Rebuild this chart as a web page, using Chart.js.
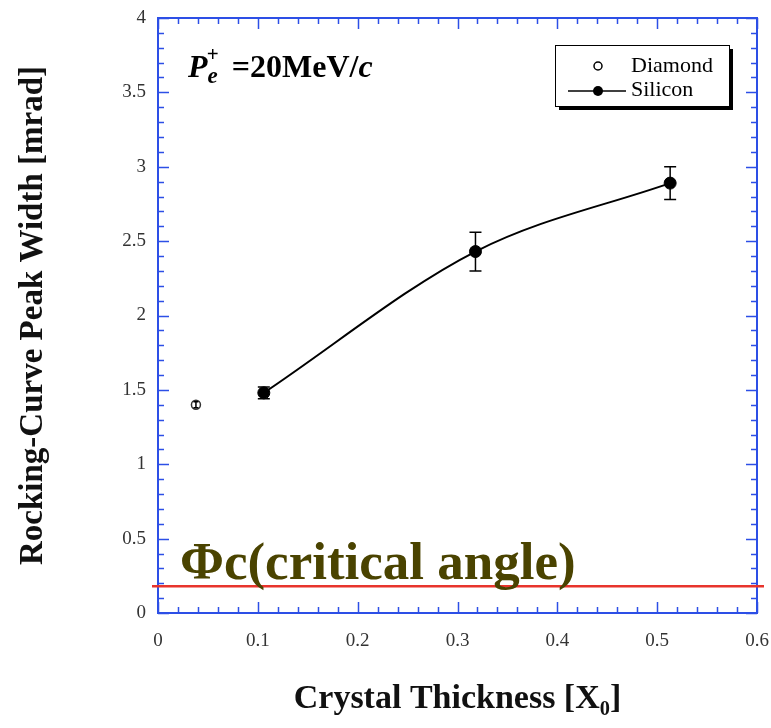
<!DOCTYPE html>
<html>
<head>
<meta charset="utf-8">
<script src="https://cdn.jsdelivr.net/npm/chart.js@4/dist/chart.umd.min.js"></script>
<style>
  html, body { margin: 0; padding: 0; background: #fff; overflow: hidden; }
  canvas { display: block; }
</style>
</head>
<body>
<canvas id="chart" width="771" height="728"></canvas>
<script>
// ---- Data ----
const diamondX = [0.038];
const diamondY = [1.40];
const diamondErr = [0.02];

const siliconX = [0.106, 0.318, 0.513];
const siliconY = [1.48, 2.43, 2.89];
const siliconErr = [0.04, 0.13, 0.11];

const xTicks = [0, 0.1, 0.2, 0.3, 0.4, 0.5, 0.6];
const yTicks = [0, 0.5, 1, 1.5, 2, 2.5, 3, 3.5, 4];

const criticalAngle = [0.18];

const serif = '"Liberation Serif", "Times New Roman", serif';
const blue = '#2d4fe6';

const toPts = (xs, ys) => xs.map((x, i) => ({ x: x, y: ys[i] }));

// error bars, frame, inward ticks, legend and annotations
const decorations = {
  id: 'decorations',
  afterDatasetsDraw(chart) {
    const ctx = chart.ctx;
    const xs = chart.scales.x, ys = chart.scales.y;
    const a = chart.chartArea;

    ctx.save();
    // error bars
    ctx.strokeStyle = '#000';
    ctx.lineWidth = 1.5;
    const bars = (X, Y, E, cap) => X.forEach((x, i) => {
      const px = xs.getPixelForValue(x);
      const top = ys.getPixelForValue(Y[i] + E[i]);
      const bot = ys.getPixelForValue(Y[i] - E[i]);
      ctx.beginPath();
      ctx.moveTo(px, top); ctx.lineTo(px, bot);
      ctx.moveTo(px - cap, top); ctx.lineTo(px + cap, top);
      ctx.moveTo(px - cap, bot); ctx.lineTo(px + cap, bot);
      ctx.stroke();
    });
    bars(siliconX, siliconY, siliconErr, 6);
    bars(diamondX, diamondY, diamondErr, 2.5);

    // frame
    ctx.strokeStyle = blue;
    ctx.lineWidth = 2;
    ctx.strokeRect(a.left, a.top, a.right - a.left, a.bottom - a.top);

    // inward ticks on all four sides
    ctx.lineWidth = 1.5;
    ctx.beginPath();
    for (let i = 0; i < xTicks.length; i++) {
      for (let k = 0; k < 5; k++) {
        if (i === xTicks.length - 1 && k > 0) break;
        const v = xTicks[i] + k * 0.02;
        const px = Math.round(xs.getPixelForValue(v)) + 0.5;
        const len = k === 0 ? 11 : 6;
        ctx.moveTo(px, a.bottom); ctx.lineTo(px, a.bottom - len);
        ctx.moveTo(px, a.top); ctx.lineTo(px, a.top + len);
      }
    }
    for (let i = 0; i < yTicks.length; i++) {
      for (let k = 0; k < 5; k++) {
        if (i === yTicks.length - 1 && k > 0) break;
        const v = yTicks[i] + k * 0.1;
        const py = Math.round(ys.getPixelForValue(v)) + 0.5;
        const len = k === 0 ? 11 : 6;
        ctx.moveTo(a.left, py); ctx.lineTo(a.left + len, py);
        ctx.moveTo(a.right, py); ctx.lineTo(a.right - len, py);
      }
    }
    ctx.stroke();

    // legend box
    const lx = 555, ly = 45, lw = 174, lh = 61;
    ctx.fillStyle = '#000';
    ctx.fillRect(lx + 4, ly + 4, lw, lh);
    ctx.fillStyle = '#fff';
    ctx.fillRect(lx, ly, lw, lh);
    ctx.strokeStyle = '#000';
    ctx.lineWidth = 1;
    ctx.strokeRect(lx + 0.5, ly + 0.5, lw, lh);
    ctx.lineWidth = 1.5;
    ctx.beginPath();
    ctx.arc(598, 66, 4, 0, Math.PI * 2);
    ctx.stroke();
    ctx.beginPath();
    ctx.moveTo(568, 91); ctx.lineTo(626, 91);
    ctx.stroke();
    ctx.fillStyle = '#000';
    ctx.beginPath();
    ctx.arc(598, 91, 5, 0, Math.PI * 2);
    ctx.fill();
    ctx.font = '22px ' + serif;
    ctx.textBaseline = 'middle';
    ctx.fillText('Diamond', 631, 66);
    ctx.fillText('Silicon', 631, 90);

    // beam momentum label
    ctx.textBaseline = 'alphabetic';
    let tx = 188;
    const piece = (txt, font, dy) => {
      ctx.font = font;
      ctx.fillText(txt, tx, 77 + dy);
      tx += ctx.measureText(txt).width;
    };
    piece('P', 'italic bold 32px ' + serif, 0);
    piece('e', 'italic bold 23px ' + serif, 6);
    ctx.font = 'bold 21px ' + serif;
    ctx.fillText('+', tx - 11, 61);
    tx += 6;
    piece(' =20MeV/', 'bold 32px ' + serif, 0);
    piece('c', 'italic bold 32px ' + serif, 0);

    // critical angle line and label
    const ry = ys.getPixelForValue(criticalAngle[0]);
    ctx.strokeStyle = '#e8342c';
    ctx.lineWidth = 2.5;
    ctx.beginPath();
    ctx.moveTo(152, ry); ctx.lineTo(764, ry);
    ctx.stroke();
    ctx.fillStyle = '#4a4300';
    ctx.font = 'bold 53px ' + serif;
    ctx.fillText('\u03A6c(critical angle)', 180, 579);
    ctx.restore();
  }
};

new Chart(document.getElementById('chart'), {
  type: 'scatter',
  data: {
    datasets: [
      {
        label: 'Silicon fit',
        data: toPts(siliconX, siliconY),
        showLine: true,
        borderColor: '#000',
        borderWidth: 2,
        cubicInterpolationMode: 'monotone',
        pointRadius: 0
      },
      {
        label: 'Silicon',
        data: toPts(siliconX, siliconY),
        pointRadius: 6,
        pointBackgroundColor: '#000',
        pointBorderColor: '#000'
      },
      {
        label: 'Diamond',
        data: toPts(diamondX, diamondY),
        pointRadius: 4.5,
        pointBackgroundColor: '#fff',
        pointBorderColor: '#333',
        pointBorderWidth: 1.5
      }
    ]
  },
  options: {
    responsive: false,
    animation: false,
    layout: { padding: { top: 18, right: 14, left: 0, bottom: 0 } },
    plugins: { legend: { display: false }, tooltip: { enabled: false } },
    scales: {
      x: {
        type: 'linear',
        min: 0, max: 0.6,
        afterBuildTicks: s => { s.ticks = xTicks.map(v => ({ value: v })); },
        afterFit: s => { s.height = 115; s.paddingLeft = 0; s.paddingRight = 0; },
        grid: { display: false, drawTicks: false },
        border: { display: false },
        ticks: {
          padding: 17,
          color: '#333',
          font: { family: serif, size: 19 },
          callback: v => String(v)
        },
        title: {
          display: true,
          text: 'Crystal Thickness [X\u2080]',
          color: '#111',
          font: { family: serif, size: 34, weight: 'bold' },
          padding: { top: 0, bottom: 8 }
        }
      },
      y: {
        type: 'linear',
        min: 0, max: 4,
        afterBuildTicks: s => { s.ticks = yTicks.map(v => ({ value: v })); },
        afterFit: s => { s.width = 158; s.paddingTop = 0; s.paddingBottom = 0; },
        grid: { display: false, drawTicks: false },
        border: { display: false },
        ticks: {
          padding: 12,
          color: '#333',
          font: { family: serif, size: 19 },
          callback: v => String(v)
        },
        title: {
          display: true,
          text: 'Rocking-Curve Peak Width [mrad]',
          color: '#111',
          font: { family: serif, size: 33, weight: 'bold' },
          padding: { top: 14, bottom: 0 }
        }
      }
    }
  },
  plugins: [decorations]
});
</script>
</body>
</html>
